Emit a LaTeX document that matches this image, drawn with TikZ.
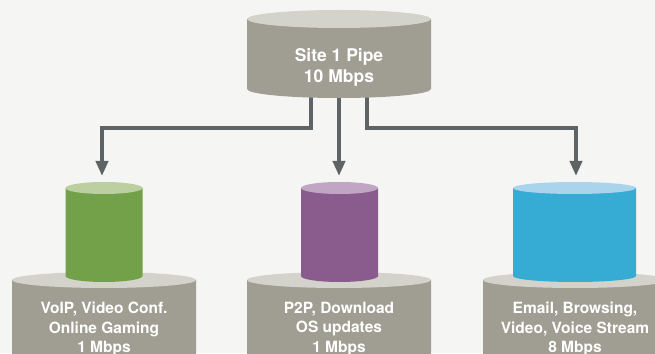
\documentclass[tikz,border=0pt]{standalone}
\usepackage{fontspec}
\setmainfont{TeX Gyre Heros}
\usetikzlibrary{arrows.meta}

\definecolor{bgpaper}{HTML}{F5F5F3}
\definecolor{drumbody}{HTML}{A09E92}
\definecolor{drumtop}{HTML}{D3D3CB}
\definecolor{flowline}{HTML}{5E6366}
\definecolor{greenbody}{HTML}{72A14A}
\definecolor{greentop}{HTML}{BBCFA0}
\definecolor{purplebody}{HTML}{8A5C8E}
\definecolor{purpletop}{HTML}{C1A5C5}
\definecolor{bluebody}{HTML}{36ABD4}
\definecolor{bluetop}{HTML}{A9D4EB}

% upright cylinder: #1 centre x, #2 top-ellipse y, #3 bottom-ellipse y,
% #4 x radius, #5 y radius, #6 body colour, #7 lid colour
\newcommand\drum[7]{%
  \fill[#6] (#1-#4,#2) -- (#1-#4,#3)
    arc[start angle=180,end angle=360,x radius=#4pt,y radius=#5pt]
    -- (#1+#4,#2) -- cycle;
  \fill[#7] (#1,#2) ellipse[x radius=#4pt,y radius=#5pt];
}

\tikzset{
  flow/.style={draw=flowline,line width=4pt,line join=miter,
    -{Triangle[length=15pt,width=12pt]}},
  lbl/.style={text=white,inner sep=0pt,align=center,
    font=\bfseries\fontsize{15.5}{19.5}\selectfont},
  toplbl/.style={lbl,font=\bfseries\fontsize{17.5}{21}\selectfont}
}

\begin{document}
\begin{tikzpicture}[x=1pt,y=1pt]
  \fill[bgpaper] (0,0) rectangle (655,353);
  \useasboundingbox (0,0) rectangle (655,353);

  % connector anchors
  \coordinate (s1) at (311,263);
  \coordinate (s2) at (339,263);
  \coordinate (s3) at (367,263);
  \coordinate (elb) at (0,225);
  \coordinate (t1) at (102,177);
  \coordinate (t2) at (339,177);
  \coordinate (t3) at (576,177);

  % connectors
  \draw[flow] (s1) -- (s1 |- elb) -| (t1);
  \draw[flow] (s2) -- (t2);
  \draw[flow] (s3) -- (s3 |- elb) -| (t3);

  % main pipe
  \drum{339}{334}{264}{92}{9}{drumbody}{drumtop}
  \node[toplbl] (pipe) at (339,285.6) {Site 1 Pipe\\10 Mbps};

  % class bases
  \drum{104}{73}{-30}{92}{8}{drumbody}{drumtop}
  \drum{339}{73}{-30}{92}{8}{drumbody}{drumtop}
  \drum{575}{73}{-30}{92}{8}{drumbody}{drumtop}

  % class shares
  \drum{104}{165}{77}{38.5}{6}{greenbody}{greentop}
  \drum{339.5}{165}{77}{38.5}{6}{purplebody}{purpletop}
  \drum{574.5}{165}{77}{61.5}{6}{bluebody}{bluetop}

  \node[lbl] (voip) at (104,24) {VoIP, Video Conf.\\Online Gaming\\1 Mbps};
  \node[lbl] (p2p) at (339,24) {P2P, Download\\OS updates\\1 Mbps};
  \node[lbl] (mail) at (575,24) {Email, Browsing,\\Video, Voice Stream\\8 Mbps};
\end{tikzpicture}
\end{document}
